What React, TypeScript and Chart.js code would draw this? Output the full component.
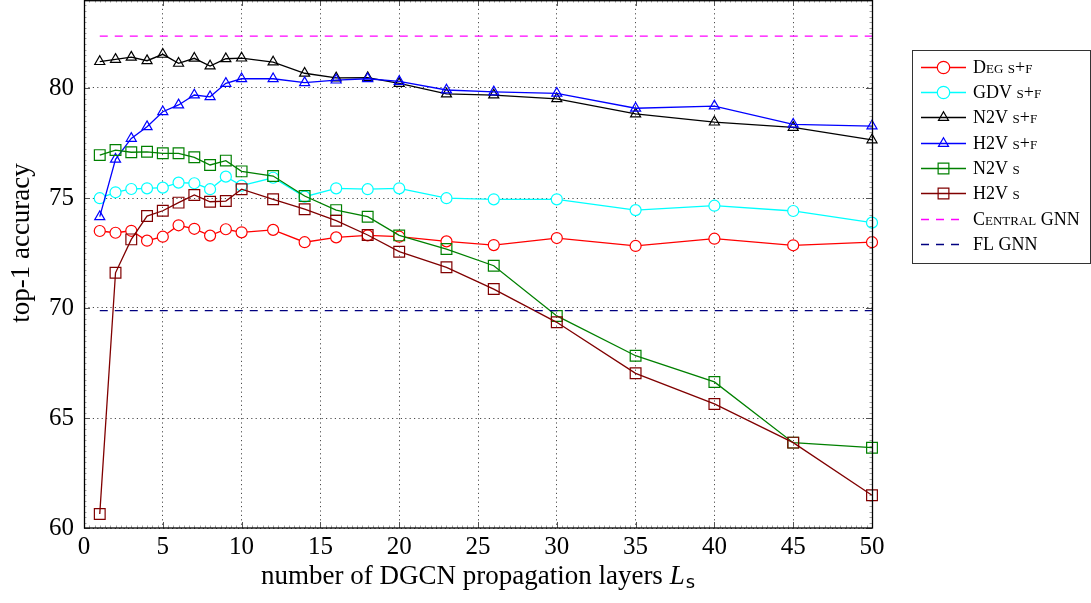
import React, { useEffect, useRef } from "react";
import { Chart, registerables } from "chart.js";

Chart.register(...registerables);

// ---------- data ----------
const layers = [1, 2, 3, 4, 5, 6, 7, 8, 9, 10, 12, 14, 16, 18, 20, 23, 26, 30, 35, 40, 45, 50];
const degSF = [73.5, 73.42, 73.51, 73.06, 73.24, 73.76, 73.6, 73.29, 73.58, 73.44, 73.55, 72.99, 73.21, 73.3, 73.24, 73.03, 72.86, 73.18, 72.82, 73.15, 72.85, 72.99];
const gdvSF = [74.99, 75.26, 75.41, 75.44, 75.47, 75.7, 75.67, 75.4, 75.97, 75.56, 75.92, 75.06, 75.44, 75.4, 75.44, 74.99, 74.94, 74.94, 74.45, 74.65, 74.41, 73.88];
const n2vSF = [81.2, 81.3, 81.4, 81.24, 81.53, 81.12, 81.35, 81.0, 81.33, 81.36, 81.18, 80.67, 80.46, 80.47, 80.21, 79.73, 79.68, 79.51, 78.82, 78.45, 78.21, 77.64];
const h2vSF = [74.15, 76.76, 77.71, 78.24, 78.92, 79.23, 79.68, 79.6, 80.21, 80.42, 80.42, 80.24, 80.36, 80.42, 80.3, 79.91, 79.82, 79.76, 79.08, 79.18, 78.35, 78.27];
const n2vS = [76.95, 77.18, 77.08, 77.1, 77.03, 77.03, 76.85, 76.5, 76.7, 76.21, 76.0, 75.09, 74.45, 74.15, 73.3, 72.68, 71.92, 69.64, 67.83, 66.64, 63.88, 63.65];
const h2vS = [60.64, 71.6, 73.12, 74.18, 74.42, 74.79, 75.14, 74.83, 74.86, 75.4, 74.94, 74.49, 73.97, 73.32, 72.56, 71.85, 70.86, 69.35, 67.03, 65.64, 63.88, 61.49];
const centralGNN = 82.36;
const flGNN = 69.88;
const refRange = [1, 50];

const xTicks = [0, 5, 10, 15, 20, 25, 30, 35, 40, 45, 50];
const yTicks = [60, 65, 70, 75, 80];
const xLimits = [0, 50];
const yLimits = [60, 84];

const seriesLabels = ["Deg s+f", "GDV s+f", "N2V s+f", "H2V s+f", "N2V s", "H2V s", "Central GNN", "FL GNN"];
const yTitle = "top-1 accuracy";
const xTitleMain = "number of DGCN propagation layers ";
const xTitleSym = "L";
const xTitleSub = "s";

const SERIF = "'Liberation Serif', 'Times New Roman', serif";

function pts(ys: number[]) {
  return layers.map((x, i) => ({ x, y: ys[i] }));
}
function hline(v: number) {
  return refRange.map((x) => ({ x, y: v }));
}

function drawMarker(ctx: CanvasRenderingContext2D, style: string, x: number, y: number, r: number, stroke: string, fill: string, lw: number) {
  ctx.save();
  ctx.beginPath();
  if (style === "circle") {
    ctx.arc(x, y, r, 0, Math.PI * 2);
  } else if (style === "triangle") {
    for (let k = 0; k < 3; k++) {
      const ang = -Math.PI / 2 + (k * 2 * Math.PI) / 3;
      const px = x + r * Math.cos(ang);
      const py = y + r * Math.sin(ang);
      if (k === 0) ctx.moveTo(px, py);
      else ctx.lineTo(px, py);
    }
    ctx.closePath();
  } else if (style === "rect") {
    const h = r * Math.SQRT1_2;
    ctx.rect(x - h, y - h, 2 * h, 2 * h);
  }
  if (fill && fill !== "transparent") {
    ctx.fillStyle = fill;
    ctx.fill();
  }
  ctx.strokeStyle = stroke;
  ctx.lineWidth = lw;
  ctx.stroke();
  ctx.restore();
}

const decorPlugin = {
  id: "decor",
  afterDraw(chart: any) {
    const { ctx, chartArea: a, scales } = chart;
    const xs = scales.x;
    const ys = scales.y;
    ctx.save();

    // minor ticks
    ctx.strokeStyle = "#8a8a8a";
    ctx.lineWidth = 0.8;
    ctx.beginPath();
    for (let v = yLimits[0]; v <= yLimits[1] + 1e-6; v += 0.25) {
      const py = Math.round(ys.getPixelForValue(v)) + 0.5;
      ctx.moveTo(a.left, py);
      ctx.lineTo(a.left + 2.5, py);
      ctx.moveTo(a.right, py);
      ctx.lineTo(a.right - 2.5, py);
    }
    for (let v = xLimits[0]; v <= xLimits[1] + 1e-6; v += 1 / 3) {
      const px = Math.round(xs.getPixelForValue(v)) + 0.5;
      ctx.moveTo(px, a.bottom);
      ctx.lineTo(px, a.bottom - 2.5);
      ctx.moveTo(px, a.top);
      ctx.lineTo(px, a.top + 2.5);
    }
    ctx.stroke();

    // major ticks
    ctx.strokeStyle = "#555";
    ctx.lineWidth = 1;
    ctx.beginPath();
    for (const v of yTicks) {
      const py = Math.round(ys.getPixelForValue(v)) + 0.5;
      ctx.moveTo(a.left, py);
      ctx.lineTo(a.left + 6, py);
      ctx.moveTo(a.right, py);
      ctx.lineTo(a.right - 6, py);
    }
    for (const v of xTicks) {
      const px = Math.round(xs.getPixelForValue(v)) + 0.5;
      ctx.moveTo(px, a.bottom);
      ctx.lineTo(px, a.bottom - 6);
      ctx.moveTo(px, a.top);
      ctx.lineTo(px, a.top + 6);
    }
    ctx.stroke();

    // frame
    ctx.strokeStyle = "#000";
    ctx.lineWidth = 1.3;
    ctx.strokeRect(Math.round(a.left) + 0.5, Math.round(a.top) + 0.7, Math.round(a.right - a.left), Math.round(a.bottom - a.top) - 0.7);

    // y title
    ctx.fillStyle = "#000";
    ctx.save();
    ctx.translate(29, 243);
    ctx.rotate(-Math.PI / 2);
    ctx.font = `27px ${SERIF}`;
    ctx.textAlign = "center";
    ctx.textBaseline = "alphabetic";
    ctx.fillText(yTitle, 0, 0);
    ctx.restore();

    // x title
    const base = 584;
    ctx.textBaseline = "alphabetic";
    ctx.textAlign = "left";
    ctx.font = `27px ${SERIF}`;
    const w1 = ctx.measureText(xTitleMain).width;
    ctx.font = `italic 27px ${SERIF}`;
    const w2 = ctx.measureText(xTitleSym).width;
    ctx.font = `18px 'DejaVu Sans', sans-serif`;
    const w3 = ctx.measureText(xTitleSub).width;
    const total = w1 + w2 + 1 + w3;
    let x0 = (a.left + a.right) / 2 - total / 2;
    ctx.font = `27px ${SERIF}`;
    ctx.fillText(xTitleMain, x0, base);
    x0 += w1;
    ctx.font = `italic 27px ${SERIF}`;
    ctx.fillText(xTitleSym, x0, base);
    x0 += w2 + 1;
    ctx.font = `18px 'DejaVu Sans', sans-serif`;
    ctx.fillText(xTitleSub, x0, base + 4);

    // legend
    const bx = 912, by = 50, bw = 178, bh = 213;
    ctx.fillStyle = "#fff";
    ctx.fillRect(bx, by, bw, bh);
    ctx.strokeStyle = "#333";
    ctx.lineWidth = 1;
    ctx.strokeRect(bx + 0.5, by + 0.5, bw, bh);
    const rowY0 = 66.7;
    const rowH = 25.3;
    chart.data.datasets.forEach((ds: any, i: number) => {
      const cy = Math.round(rowY0 + i * rowH) + 0.5;
      ctx.save();
      ctx.strokeStyle = ds.borderColor;
      ctx.lineWidth = ds.borderWidth;
      ctx.setLineDash(ds.borderDash || []);
      ctx.beginPath();
      ctx.moveTo(921, cy);
      ctx.lineTo(966, cy);
      ctx.stroke();
      ctx.restore();
      if (ds.pointRadius > 0) {
        const r = ds.pointStyle === "circle" ? ds.pointRadius + 0.7 : ds.pointRadius;
        drawMarker(ctx, ds.pointStyle, 943.5, cy, r, ds.pointBorderColor, ds.pointBackgroundColor, ds.pointBorderWidth);
      }
      ctx.fillStyle = "#000";
      ctx.font = `small-caps 18px ${SERIF}`;
      ctx.textAlign = "left";
      ctx.textBaseline = "middle";
      ctx.fillText(ds.label, 973, cy + 1);
    });

    ctx.restore();
  },
};

function series(label: string, data: any[], color: string, style: string, radius: number, fill: string, idx: number) {
  return {
    label,
    data,
    borderColor: color,
    backgroundColor: color,
    borderWidth: 1.3,
    pointStyle: style,
    pointRadius: radius,
    pointBorderColor: color,
    pointBackgroundColor: fill,
    pointBorderWidth: 1.2,
    pointHoverRadius: radius,
    tension: 0,
    clip: false,
    order: 100 - idx,
  };
}

export default function App() {
  const ref = useRef<HTMLCanvasElement | null>(null);

  useEffect(() => {
    if (!ref.current) return;
    const datasets: any[] = [
      series(seriesLabels[0], pts(degSF), "#ff0000", "circle", 5.5, "#ffffff", 0),
      series(seriesLabels[1], pts(gdvSF), "#00ffff", "circle", 5.5, "#ffffff", 1),
      series(seriesLabels[2], pts(n2vSF), "#000000", "triangle", 5.8, "transparent", 2),
      series(seriesLabels[3], pts(h2vSF), "#0000ff", "triangle", 5.8, "transparent", 3),
      series(seriesLabels[4], pts(n2vS), "#008000", "rect", 7.6, "transparent", 4),
      series(seriesLabels[5], pts(h2vS), "#800000", "rect", 7.6, "transparent", 5),
      {
        label: seriesLabels[6],
        data: hline(centralGNN),
        borderColor: "#ff00ff",
        borderWidth: 1.3,
        borderDash: [8, 7],
        pointRadius: 0,
        clip: false,
        order: 100 - 6,
      },
      {
        label: seriesLabels[7],
        data: hline(flGNN),
        borderColor: "#000080",
        borderWidth: 1.3,
        borderDash: [8, 7],
        pointRadius: 0,
        clip: false,
        order: 100 - 7,
      },
    ];

    const chart = new Chart(ref.current, {
      type: "line",
      data: { datasets },
      options: {
        animation: false,
        responsive: false,
        maintainAspectRatio: false,
        layout: { autoPadding: false, padding: { left: 0, right: 219, top: 0, bottom: 0 } },
        plugins: { legend: { display: false }, tooltip: { enabled: false } },
        scales: {
          x: {
            type: "linear",
            min: xLimits[0],
            max: xLimits[1],
            afterBuildTicks: (s: any) => {
              s.ticks = xTicks.map((v) => ({ value: v }));
            },
            afterFit: (s: any) => {
              s.height = 75;
              s.paddingLeft = 0;
              s.paddingRight = 0;
            },
            grid: { color: "rgba(0,0,0,0.7)", lineWidth: 1, drawTicks: false },
            border: { display: false, dash: [1.2, 3.2] },
            ticks: {
              color: "#000",
              font: { family: SERIF, size: 25 },
              padding: 4,
              maxRotation: 0,
              autoSkip: false,
            },
          },
          y: {
            type: "linear",
            min: yLimits[0],
            max: yLimits[1],
            afterBuildTicks: (s: any) => {
              s.ticks = yTicks.map((v) => ({ value: v }));
            },
            afterFit: (s: any) => {
              s.width = 84;
              s.paddingTop = 0;
              s.paddingBottom = 0;
            },
            grid: { color: "rgba(0,0,0,0.7)", lineWidth: 1, drawTicks: false },
            border: { display: false, dash: [1.2, 3.2] },
            ticks: {
              color: "#000",
              font: { family: SERIF, size: 25 },
              padding: 10,
              autoSkip: false,
            },
          },
        },
      },
      plugins: [decorPlugin],
    });
    return () => chart.destroy();
  }, []);

  return (
    <div style={{ position: "fixed", left: 0, top: 0, width: 1091, height: 603, background: "#fff" }}>
      <canvas ref={ref} width={1091} height={603} style={{ display: "block", width: 1091, height: 603 }} />
    </div>
  );
}
